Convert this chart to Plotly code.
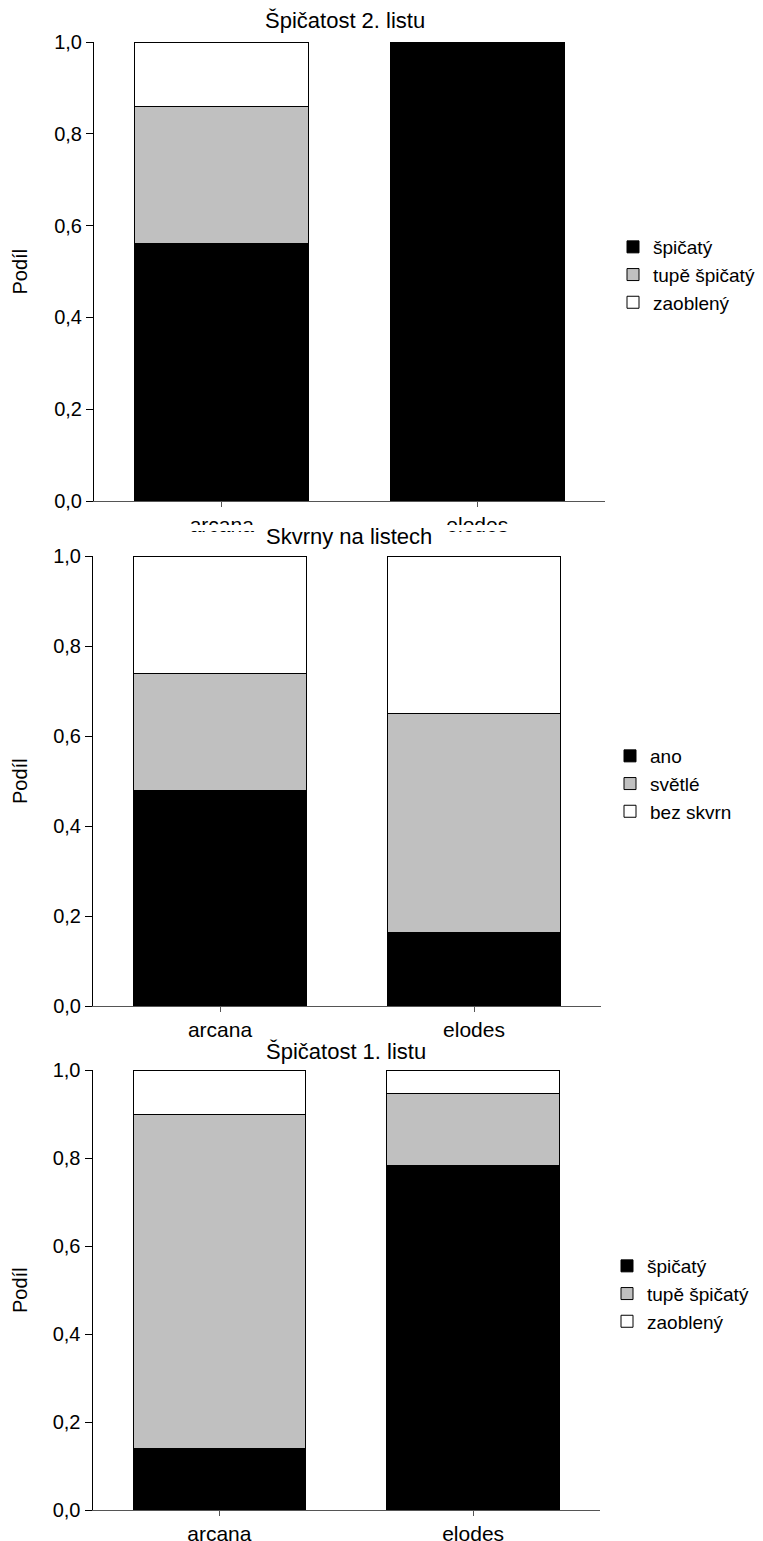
import plotly.graph_objects as go

# page offset of the plot div (default body margin)
OFF = 8
W, H = 763 - OFF, 1541 - OFF

categories = ["arcana", "elodes"]

# Panel 1: Špičatost 2. listu
p1_spicaty = [0.56, 1.0]
p1_tupe = [0.30, 0.0]
p1_zaobleny = [0.14, 0.0]

# Panel 2: Skvrny na listech
p2_ano = [0.48, 0.164]
p2_svetle = [0.26, 0.485]
p2_bez = [0.26, 0.351]

# Panel 3: Špičatost 1. listu
p3_spicaty = [0.14, 0.784]
p3_tupe = [0.76, 0.163]
p3_zaobleny = [0.10, 0.053]

titles = ["Špičatost 2. listu", "Skvrny na listech", "Špičatost 1. listu"]
names_a = ["špičatý", "tupě špičatý", "zaoblený"]
names_b = ["ano", "světlé", "bez skvrn"]
y_ticks = [0.0, 0.2, 0.4, 0.6, 0.8, 1.0]
y_title = "Podíl"

colors = ["#000000", "#c0c0c0", "#ffffff"]
FONT = "Liberation Sans, Arial, sans-serif"

# target pixel geometry per panel: (x0, x1, ytop, ybottom)
geo = [
    (94, 605, 42, 501),
    (93, 601, 556, 1006),
    (92.5, 600, 1070, 1510),
]
title_pos = [(345, 20), (349, 536), (346, 1051)]
legend_pos = [(613, 228), (610, 737), (607, 1247)]
legend_font = [19, 19, 19]


def px(x):
    return (x - OFF) / W


def py(y):
    return 1 - (y - OFF) / H


panels = [
    (p1_spicaty, p1_tupe, p1_zaobleny, names_a),
    (p2_ano, p2_svetle, p2_bez, names_b),
    (p3_spicaty, p3_tupe, p3_zaobleny, names_a),
]

fig = go.Figure()
layout = {}
annotations = []
for i, (s1, s2, s3, names) in enumerate(panels):
    k = "" if i == 0 else str(i + 1)
    leg = "legend" if i == 0 else f"legend{i + 1}"
    for vals, nm, col in zip((s1, s2, s3), names, colors):
        fig.add_trace(go.Bar(
            x=categories, y=vals, name=nm,
            marker=dict(color=col, line=dict(color="#000000", width=1)),
            xaxis="x" + k, yaxis="y" + k, legend=leg,
        ))
    x0, x1, yt, yb = geo[i]
    layout["xaxis" + k] = dict(
        domain=[px(x0), px(x1)], anchor="y" + k, range=[-0.5, 1.5],
        showline=True, linecolor="#555555", linewidth=1,
        ticks="outside", ticklen=5, tickcolor="#555555",
        tickfont=dict(size=21, color="#000000", family=FONT),
        showgrid=False, zeroline=False, fixedrange=True, automargin=False,
    )
    layout["yaxis" + k] = dict(
        domain=[py(yb), py(yt)], anchor="x" + k, range=[0, 1],
        tickvals=y_ticks, tickformat=".1f",
        showline=True, linecolor="#000000", linewidth=1,
        ticks="outside", ticklen=7, tickcolor="#000000",
        tickfont=dict(size=20, color="#000000", family=FONT),
        showgrid=False, zeroline=False, automargin=False,
    )
    lx, ly = legend_pos[i]
    layout[leg] = dict(
        x=px(lx), y=py(ly), xanchor="left", yanchor="top",
        font=dict(size=legend_font[i], color="#000000", family=FONT),
        bgcolor="rgba(0,0,0,0)", traceorder="normal",
    )
    tx, ty = title_pos[i]
    annotations.append(dict(
        text=titles[i], x=px(tx), y=py(ty),
        xref="paper", yref="paper", showarrow=False,
        font=dict(size=22, color="#000000", family=FONT),
        xanchor="center", yanchor="middle",
    ))
    annotations.append(dict(
        text=y_title, x=px(20), y=py((yt + yb) / 2),
        xref="paper", yref="paper", showarrow=False, textangle=-90,
        font=dict(size=20, color="#000000", family=FONT),
        xanchor="center", yanchor="middle",
    ))

# the top panel's category labels are cut off by the panel below
shapes = [dict(
    type="rect", xref="paper", yref="paper",
    x0=0, x1=1, y0=py(531), y1=py(525),
    fillcolor="#ffffff", line=dict(width=0), layer="above",
)]

fig.update_layout(
    **layout,
    annotations=annotations,
    shapes=shapes,
    barmode="stack", bargap=0.32,
    width=W, height=H,
    margin=dict(l=0, r=0, t=0, b=0, autoexpand=False),
    paper_bgcolor="#ffffff", plot_bgcolor="#ffffff",
    separators=", ",
    font=dict(family=FONT, color="#000000"),
    showlegend=True,
)

fig.write_html("out.html")
